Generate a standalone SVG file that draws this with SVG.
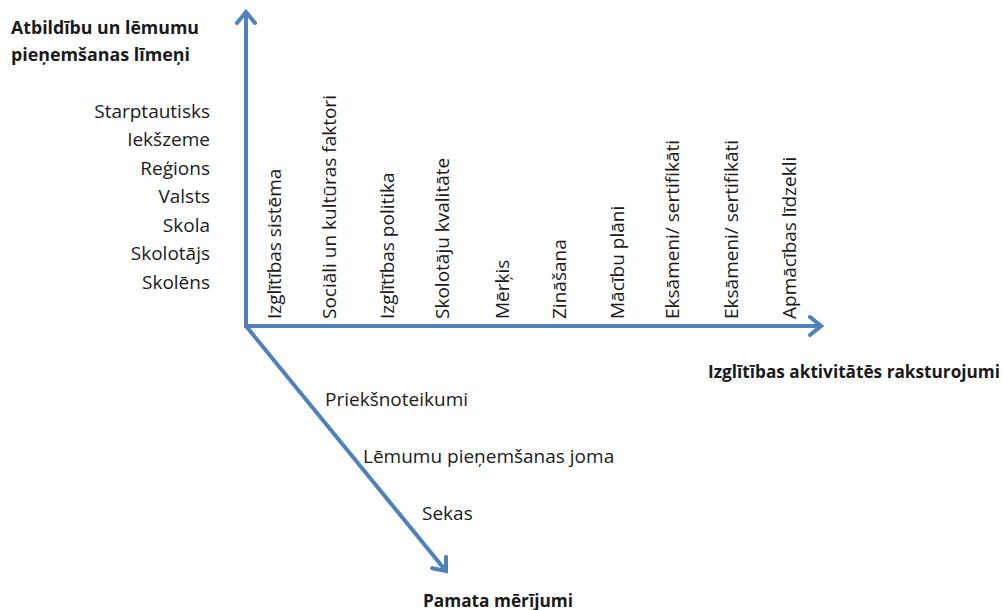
<svg xmlns="http://www.w3.org/2000/svg" width="1003" height="610" viewBox="0 0 1003 610">
<defs>
<style>
.t{font-family:"Open Sans","Liberation Sans",sans-serif;font-size:19px;fill:#1a1a1a}
.b{font-family:"Open Sans","Liberation Sans",sans-serif;font-size:17.5px;font-weight:bold;fill:#1a1a1a}
.r{text-anchor:end}
.ax{stroke:#4f81bd;stroke-width:4;fill:none;marker-end:url(#arr)}
</style>
<marker id="arr" viewBox="0 0 16 22" refX="13" refY="11" markerWidth="16" markerHeight="22" markerUnits="userSpaceOnUse" orient="auto">
<path d="M2,2 L13,11 L2,20" fill="none" stroke="#4f81bd" stroke-width="4" stroke-linecap="round" stroke-linejoin="miter"/>
</marker>
</defs>
<rect width="1003" height="610" fill="#ffffff"/>
<g id="connectors">
<path class="ax" d="M246,327 L246,12"/>
<path class="ax" d="M244,326 L821,326"/>
<path class="ax" d="M246,326 L446,571"/>
</g>
<g id="axis-labels">
<text class="b" x="11" y="34" textLength="188" lengthAdjust="spacingAndGlyphs">Atbildību un lēmumu</text>
<text class="b" x="11" y="61" textLength="179" lengthAdjust="spacingAndGlyphs">pieņemšanas līmeņi</text>
<text class="b" x="708" y="378" textLength="292" lengthAdjust="spacingAndGlyphs">Izglītības aktivitātēs raksturojumi</text>
<text class="b" x="423" y="607" textLength="150" lengthAdjust="spacingAndGlyphs">Pamata mērījumi</text>
</g>
<g id="levels">
<text class="t r" x="210" y="118">Starptautisks</text>
<text class="t r" x="210" y="146">Iekšzeme</text>
<text class="t r" x="210" y="175">Reģions</text>
<text class="t r" x="210" y="203">Valsts</text>
<text class="t r" x="210" y="232">Skola</text>
<text class="t r" x="210" y="260">Skolotājs</text>
<text class="t r" x="210" y="289">Skolēns</text>
</g>
<g id="characteristics">
<text class="t" transform="translate(281,319) rotate(-90)">Izglītības sistēma</text>
<text class="t" transform="translate(336,319) rotate(-90)">Sociāli un kultūras faktori</text>
<text class="t" transform="translate(394,319) rotate(-90)">Izglītības politika</text>
<text class="t" transform="translate(449,319) rotate(-90)">Skolotāju kvalitāte</text>
<text class="t" transform="translate(509,319) rotate(-90)">Mērķis</text>
<text class="t" transform="translate(566,319) rotate(-90)">Zināšana</text>
<text class="t" transform="translate(624,319) rotate(-90)">Mācību plāni</text>
<text class="t" transform="translate(679,319) rotate(-90)">Eksāmeni/ sertifikāti</text>
<text class="t" transform="translate(738,319) rotate(-90)">Eksāmeni/ sertifikāti</text>
<text class="t" transform="translate(796,319) rotate(-90)">Apmācības līdzekli</text>
</g>
<g id="measures">
<text class="t" x="325" y="406">Priekšnoteikumi</text>
<text class="t" x="363" y="463">Lēmumu pieņemšanas joma</text>
<text class="t" x="422" y="520">Sekas</text>
</g>
</svg>
